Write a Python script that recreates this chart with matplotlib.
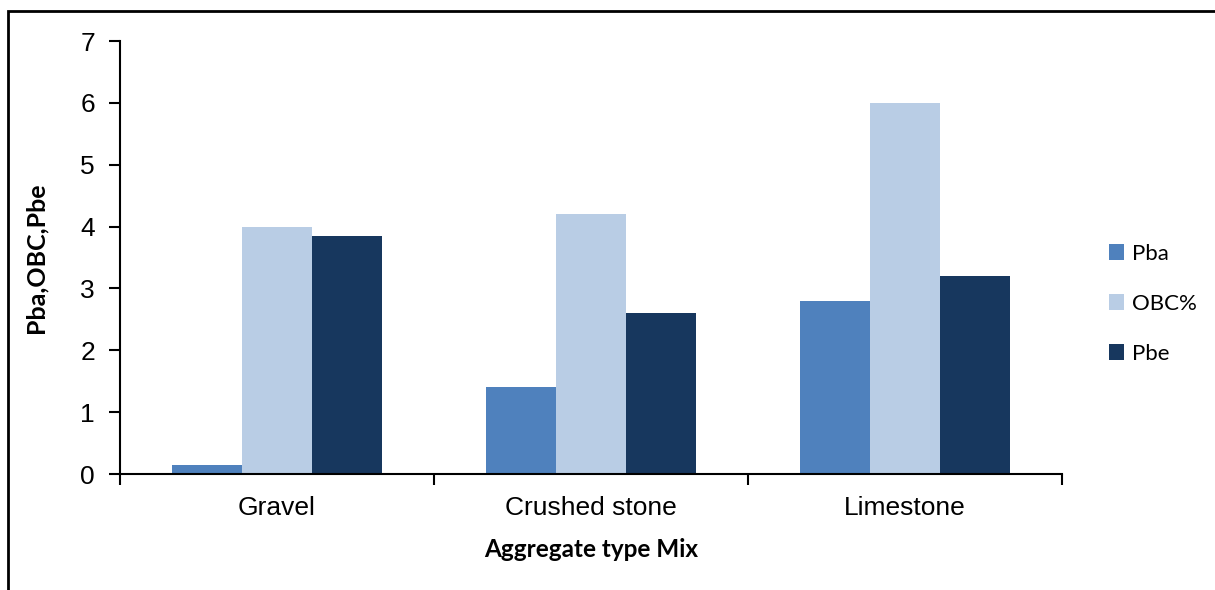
import numpy as np
import matplotlib.pyplot as plt
from matplotlib.patches import Rectangle

# aggregate mixes and binder contents
mixes = ["Gravel", "Crushed stone", "Limestone"]
pba = [0.15, 1.4, 2.8]
obc = [4.0, 4.2, 6.0]
pbe = [3.85, 2.6, 3.2]

series = [("Pba", pba, "#4F81BD"), ("OBC%", obc, "#B9CDE5"), ("Pbe", pbe, "#17375E")]

fig = plt.figure(figsize=(12.15, 5.9), dpi=100)
ax = fig.add_axes([0.0988, 0.1966, 0.7752, 0.7339])

x = np.arange(len(mixes))
width = 0.223
for i, (name, vals, col) in enumerate(series):
    ax.bar(x + (i - 1) * width, vals, width, color=col, label=name)

ax.set_xlim(-0.5, len(mixes) - 0.5)
ax.set_ylim(0, 7)
ax.set_yticks(range(0, 8))

# tick marks sit on the category boundaries, labels in the middle
ax.set_xticks(np.arange(-0.5, len(mixes), 1.0))
ax.set_xticklabels([])
ax.set_xticks(x, minor=True)
ax.set_xticklabels(mixes, minor=True)
ax.tick_params(axis="x", which="minor", length=0, pad=16)
ax.tick_params(axis="x", which="major", direction="out", length=8, width=1.5)
ax.tick_params(axis="y", direction="out", length=8, width=1.5, pad=10)

for lab in ax.get_xticklabels(minor=True) + ax.get_yticklabels():
    lab.set_fontfamily("Liberation Sans")
    lab.set_fontsize(19)

for side in ["top", "right"]:
    ax.spines[side].set_visible(False)
for side in ["left", "bottom"]:
    ax.spines[side].set_linewidth(1.5)

ax.set_xlabel("Aggregate type Mix", fontfamily="Lato", fontweight="bold",
              fontsize=17.5, labelpad=13)
ax.set_ylabel("Pba,OBC,Pbe", fontfamily="Lato", fontweight="bold",
              fontsize=18, labelpad=24)

ax.legend(loc="center left", bbox_to_anchor=(0.896, 0.485),
          bbox_transform=fig.transFigure, frameon=False,
          prop={"family": "Lato", "size": 16},
          handlelength=0.7, handleheight=0.7, handletextpad=0.35,
          labelspacing=1.35)

# outer chart frame, running off the right and bottom edges
fig.patches.append(Rectangle((8 / 1215, -0.05), 1.1, (590 - 11) / 590 + 0.05,
                             transform=fig.transFigure, fill=False,
                             edgecolor="black", linewidth=2))

fig.savefig("out.png", dpi=100)
